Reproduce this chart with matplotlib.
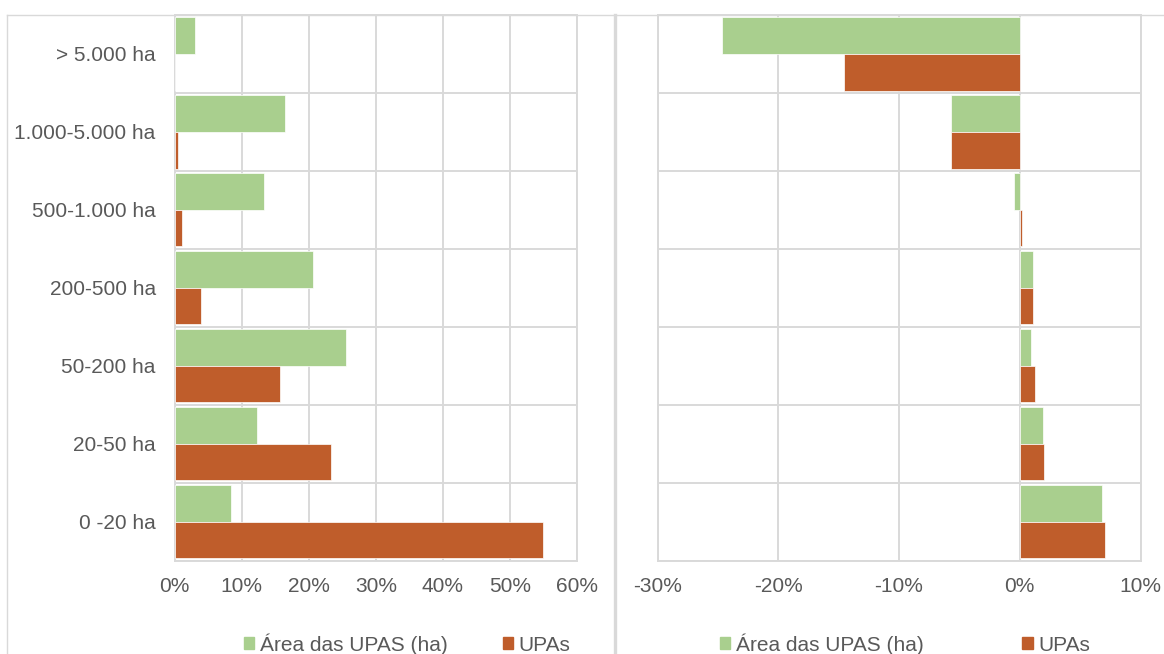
import matplotlib
matplotlib.use("Agg")
import matplotlib.pyplot as plt
import matplotlib.patches as mpatches
from matplotlib.lines import Line2D
from matplotlib.ticker import FuncFormatter, MultipleLocator
import numpy as np

plt.rcParams['font.family'] = ['Liberation Sans', 'DejaVu Sans']

# categories, top to bottom
categories = ["> 5.000 ha", "1.000-5.000 ha", "500-1.000 ha", "200-500 ha",
              "50-200 ha", "20-50 ha", "0 -20 ha"]

# left chart: share (%)
area_share = [3.1, 16.5, 13.4, 20.7, 25.5, 12.3, 8.4]
upas_share = [0.05, 0.5, 1.1, 4.0, 15.7, 23.3, 55.0]

# right chart: change (percentage points)
area_change = [-24.7, -5.7, -0.5, 1.1, 0.9, 1.9, 6.8]
upas_change = [-14.6, -5.7, 0.15, 1.1, 1.3, 2.0, 7.1]

series_labels = ["Área das UPAS (ha)", "UPAs"]

GREEN = '#A9CF8E'
ORANGE = '#BF5D2B'
GRID = '#D9D9D9'
TEXT = '#595959'
FS = 15

W, H = 1164, 654
fig = plt.figure(figsize=(W / 100, H / 100), dpi=100)


def px_axes(x0, x1, y_top, y_bot):
    # axes placed by pixel coordinates (top-left origin)
    return fig.add_axes([x0 / W, 1 - y_bot / H, (x1 - x0) / W, (y_bot - y_top) / H])


def pct(x, pos):
    return '{:.0f}%'.format(x).replace('\u2212', '-')


def draw_panel(ax, green_vals, orange_vals, xlim, show_labels):
    y = np.arange(len(categories))
    bh = 0.47
    ax.barh(y - bh / 2, green_vals, height=bh, color=GREEN, edgecolor='white',
            linewidth=0.5, zorder=3, label=series_labels[0])
    ax.barh(y + bh / 2, orange_vals, height=bh, color=ORANGE, edgecolor='white',
            linewidth=0.5, zorder=3, label=series_labels[1])
    ax.set_ylim(len(categories) - 0.5, -0.5)
    ax.set_xlim(*xlim)
    ax.xaxis.set_major_locator(MultipleLocator(10))
    ax.xaxis.set_major_formatter(FuncFormatter(pct))
    # category separators
    for b in np.arange(-0.5, len(categories), 1.0):
        ax.axhline(b, color=GRID, lw=1.4, zorder=1)
    ax.grid(axis='x', color=GRID, lw=1.4, zorder=1)
    ax.set_axisbelow(True)
    for s in ax.spines.values():
        s.set_color(GRID)
        s.set_linewidth(1.4)
    ax.set_yticks(y)
    if show_labels:
        ax.set_yticklabels(categories)
    else:
        ax.set_yticklabels([])
    ax.tick_params(axis='both', length=0, labelsize=FS, colors=TEXT)
    ax.tick_params(axis='x', pad=12)
    ax.tick_params(axis='y', pad=13.5)


ax1 = px_axes(174.5, 577, 15, 560.5)
draw_panel(ax1, area_share, upas_share, (0, 60), True)

ax2 = px_axes(657.6, 1140.5, 15, 560.5)
draw_panel(ax2, area_change, upas_change, (-30, 10), False)

# chart frames
fig.add_artist(Line2D([7 / W, 1], [1 - 15 / H, 1 - 15 / H], color=GRID, lw=1.0,
                      transform=fig.transFigure))
fig.add_artist(Line2D([7 / W, 7 / W], [0, 1 - 15 / H], color=GRID, lw=1.0,
                      transform=fig.transFigure))
fig.add_artist(Line2D([614.5 / W, 614.5 / W], [0, 1 - 15 / H], color=GRID, lw=2.4,
                      transform=fig.transFigure))

# legends
handles = [mpatches.Patch(color=GREEN, label=series_labels[0]),
           mpatches.Patch(color=ORANGE, label=series_labels[1])]
for x0, colsp in [(244, 2.65), (720, 4.75)]:
    leg = fig.legend(handles=handles, loc='center left', ncol=2,
                     bbox_to_anchor=(x0 / W, 1 - 644 / H), bbox_transform=fig.transFigure,
                     frameon=False, fontsize=FS, handlelength=0.5, handleheight=0.5,
                     handletextpad=0.25, columnspacing=colsp, borderpad=0, borderaxespad=0)
    for t in leg.get_texts():
        t.set_color(TEXT)

fig.savefig('out.png', dpi=100)
